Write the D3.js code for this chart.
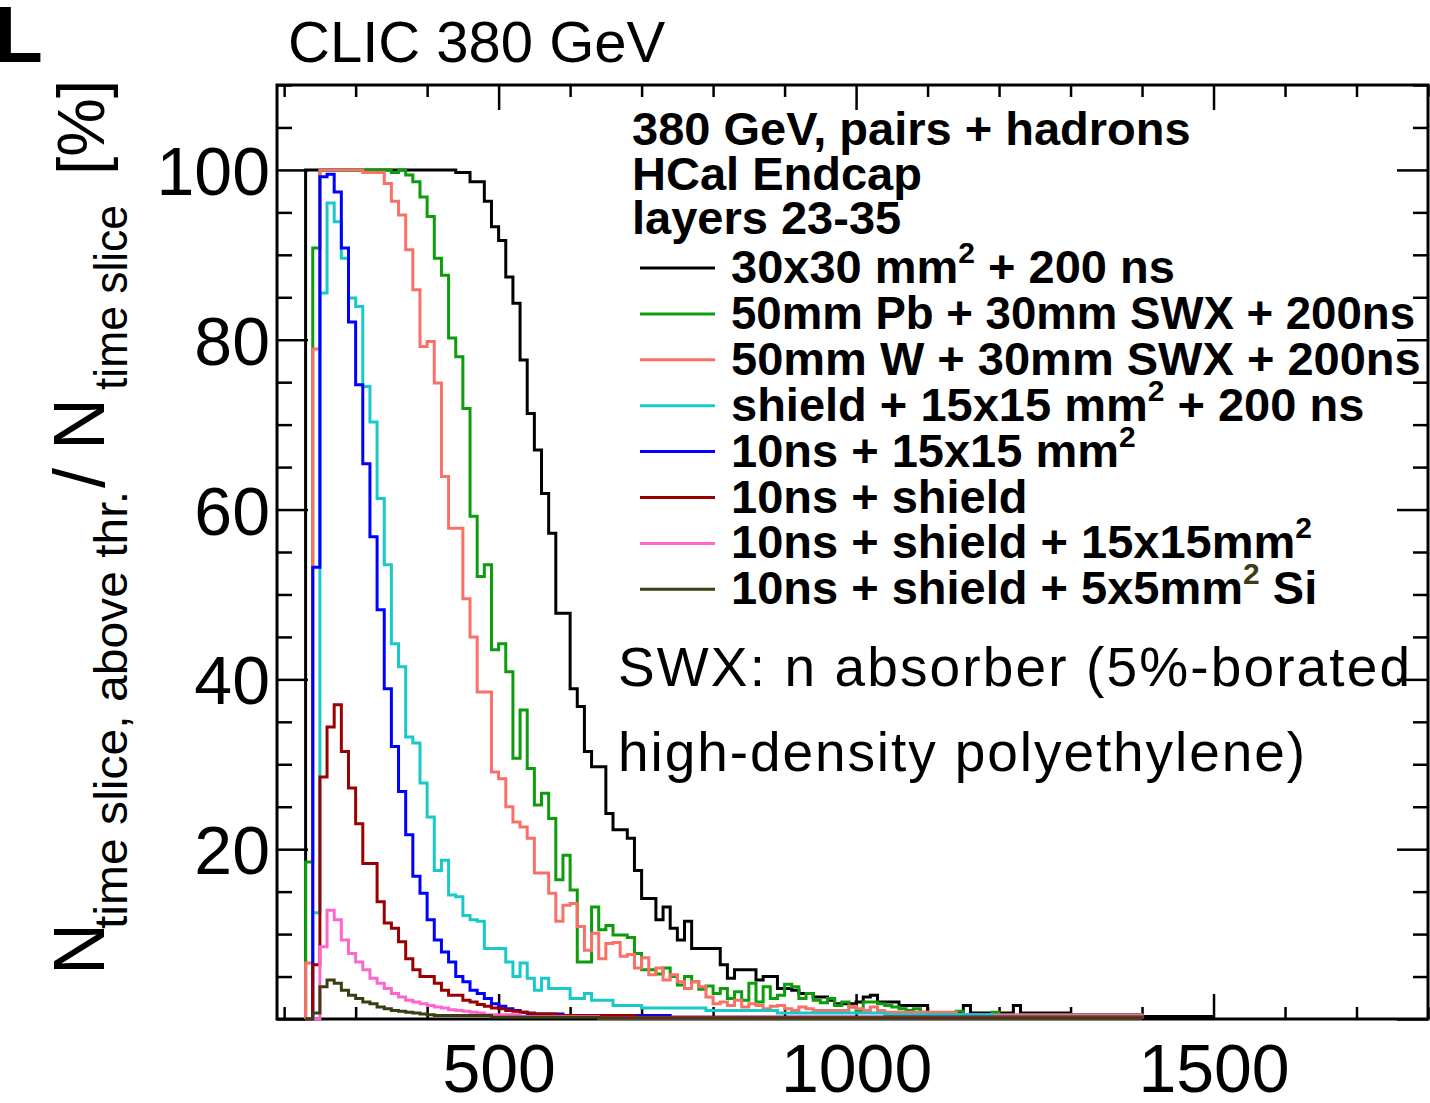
<!DOCTYPE html>
<html>
<head>
<meta charset="utf-8">
<script src="https://cdn.jsdelivr.net/npm/d3@7"></script>
<style>
  html, body { margin: 0; padding: 0; background: #fff; }
  svg { display: block; font-family: "Liberation Sans", Arial, Helvetica, sans-serif; }
</style>
</head>
<body>
<svg id="chart" width="1430" height="1103"></svg>
<script>
// Fraction of time slices above threshold, HCal endcap layers 23-35, CLIC 380 GeV.
// Histograms share one binning: 10 ns bins starting at 230 ns.
const binStart = 230;
const binWidth = 10;

// x / y axis ticks
const xMajorTicks = [500, 1000, 1500];
const xTickLabels = ["500", "1000", "1500"];
const xMinorTicks = [200, 300, 400, 600, 700, 800, 900, 1100, 1200, 1300, 1400, 1600, 1700, 1800];
const yMajorTicks = [0, 20, 40, 60, 80, 100];
const yTickLabels = ["", "20", "40", "60", "80", "100"];
const yMinorTicks = [5, 10, 15, 25, 30, 35, 45, 50, 55, 65, 70, 75, 85, 90, 95, 105, 110];

// series, in legend / drawing order
const seriesLabels = [
  "30x30 mm^{2} + 200 ns",
  "50mm Pb + 30mm SWX + 200ns",
  "50mm W + 30mm SWX + 200ns",
  "shield + 15x15 mm^{2} + 200 ns",
  "10ns + 15x15 mm^{2}",
  "10ns + shield",
  "10ns + shield + 15x15mm^{2}",
  "10ns + shield + 5x5mm^{2} Si"
];
const seriesColors = ["#000000", "#0c9c0c", "#fa7068", "#19c8c8", "#0000ff", "#990000", "#ff66cc", "#3d3d12"];

const cell30x30 = [
  100, 100, 100, 100, 100, 100, 100, 100, 100, 100,
  100, 100, 100, 100, 100, 100, 100, 100, 100, 100,
  100, 99.7, 99.7, 98.6, 98.6, 96.3, 93.3, 91.7, 87.4, 84.3,
  77.6, 71.3, 67.0, 61.9, 57.2, 47.8, 47.8, 38.9, 36.8, 31.5,
  29.7, 29.7, 24.2, 22.3, 22.3, 21.3, 17.5, 14.2, 14.2, 11.7,
  13.2, 10.7, 9.3, 11.5, 8.3, 8.3, 8.3, 8.3, 6.4, 4.8,
  5.8, 5.8, 5.8, 4.6, 5.0, 5.0, 3.6, 3.6, 3.4, 3.0,
  3.0, 2.6, 2.6, 2.2, 1.8, 1.8, 1.8, 2.0, 2.6, 2.8,
  2.0, 2.0, 2.0, 1.6, 1.6, 1.6, 1.6, 0.7, 0.7, 0.7,
  0.7, 0.7, 1.6, 0.7, 0.7, 0.7, 0.7, 0.7, 0.7, 1.6,
  0.7, 0.7, 0.7, 0.7, 0.7, 0.7, 0.7, 0.5, 0.5, 0.5,
  0.5, 0.5, 0.5, 0.5, 0.5, 0.5, 0.5, 0.3, 0.3, 0.3,
  0.3, 0.3, 0.3, 0.3, 0.3, 0.3, 0.3
];
const pbSwx = [
  18.5, 90.8, 100, 100, 100, 100, 100, 100, 100, 100,
  100, 100, 99.7, 100, 99.4, 98.6, 96.8, 94.5, 89.6, 87.6,
  80.2, 78.0, 71.9, 59.2, 52.1, 53.5, 43.5, 44.2, 40.9, 30.7,
  36.4, 29.5, 25.2, 26.6, 23.6, 16.4, 19.3, 15.2, 6.7, 6.7,
  13.2, 10.5, 11.0, 9.9, 9.9, 9.6, 7.7, 5.8, 5.8, 5.3,
  6.0, 5.0, 4.0, 5.0, 4.4, 3.5, 3.9, 3.0, 3.6, 2.4,
  3.2, 2.2, 4.2, 2.0, 3.8, 2.4, 2.8, 4.1, 3.8, 2.4,
  3.0, 2.2, 1.9, 2.4, 1.6, 2.0, 1.4, 1.0, 2.0, 2.0,
  1.8, 1.6, 1.4, 1.2, 1.0, 1.2, 0.8, 0.6, 0.6, 0.6,
  0.6, 0.9, 0.5, 0.5, 0.5, 0.5, 0.8, 0.4, 0.4, 0.4,
  0.4, 0.4, 0.4, 0.4, 0.4, 0.4, 0.4, 0.4, 0.4, 0.4,
  0.4, 0.4, 0.4, 0.4, 0.4, 0.4, 0.4
];
const wSwx = [
  6.6, 78.9, 100, 100, 100, 100, 100, 100, 99.7, 99.7,
  99.7, 98.4, 96.3, 94.7, 90.6, 85.9, 79.2, 79.8, 74.9, 63.9,
  57.8, 57.8, 49.5, 45.0, 38.5, 38.5, 29.1, 28.3, 25.0, 23.2,
  22.6, 21.3, 17.2, 17.2, 14.8, 11.5, 13.4, 13.6, 10.9, 8.1,
  10.1, 7.1, 8.9, 9.0, 7.4, 7.6, 6.0, 7.2, 5.2, 6.0,
  4.6, 5.2, 4.4, 3.6, 4.4, 3.8, 2.6, 1.8, 2.0, 1.6,
  2.2, 1.4, 1.8, 1.6, 1.2, 1.5, 1.6, 1.2, 1.0, 1.4,
  1.2, 1.0, 1.0, 1.0, 1.0, 1.0, 1.5, 1.2, 1.0, 1.4,
  1.0, 0.8, 0.8, 0.8, 0.8, 0.8, 0.8, 0.8, 0.8, 0.8,
  0.8, 0.5, 0.5, 0.5, 0.5, 0.5, 0.5, 0.5, 0.5, 0.5,
  0.5, 0.5, 0.5, 0.5, 0.5, 0.5, 0.5, 0.5, 0.5, 0.5,
  0.5, 0.5, 0.5, 0.5, 0.5, 0.5, 0.5
];
const shield15x15 = [
  0, 12.5, 85.5, 96.1, 93.9, 89.6, 84.9, 83.9, 74.5, 70.3,
  61.3, 53.5, 44.2, 41.5, 33.2, 32.5, 27.8, 23.8, 17.5, 18.7,
  14.6, 14.4, 12.2, 11.7, 11.5, 8.3, 8.3, 8.3, 6.7, 5.0,
  6.6, 4.8, 3.4, 4.8, 3.6, 3.6, 3.6, 2.4, 2.4, 3.0,
  2.2, 2.2, 2.2, 1.6, 1.6, 1.6, 1.6, 1.3, 1.3, 1.3,
  1.3, 1.3, 1.3, 1.3, 1.3, 1.3, 1.0, 1.0, 1.0, 1.0,
  1.0, 1.0, 1.0, 1.0, 1.0, 1.0, 0.7, 0.7, 0.7, 0.7,
  0.7, 0.7, 0.7, 0.7, 0.7, 0.7, 0.7, 0.7, 0.7, 0.7,
  0.7, 0.5, 0.5, 0.5, 0.5, 0.5, 0.5, 0.5, 0.5, 0.5,
  0.5, 0.5, 0.5, 0.5, 0.5, 0.5, 0.3, 0.3, 0.3, 0.3,
  0.3, 0.3, 0.3, 0.3, 0.3, 0.3, 0.3, 0.3, 0.3, 0.3,
  0.3, 0.3, 0.3, 0.3, 0.3, 0.3, 0.3
];
const ns10Cell15 = [
  0, 53.2, 99.2, 99.5, 97.4, 90.8, 82.1, 74.7, 65.4, 56.8,
  48.2, 38.9, 32.1, 26.8, 21.7, 16.8, 14.8, 11.7, 9.3, 7.9,
  6.7, 5.0, 4.4, 3.4, 3.0, 2.4, 1.8, 1.5, 1.2, 1.0,
  0.8, 0.6, 0.6, 0.6, 0.6, 0.6, 0.4, 0.4, 0.4, 0.4,
  0.4, 0.4, 0.4, 0.4, 0.4, 0.4, 0.4, 0.4, 0.4, 0.4,
  0.4, 0.2, 0.2, 0.2, 0.2, 0.2, 0.2, 0.2, 0.2, 0.2,
  0.2, 0.2, 0.2, 0.2, 0.2, 0.2, 0.2, 0.2, 0.2, 0.2,
  0.2, 0.2, 0.2, 0.2, 0.2, 0.2, 0.2, 0.2, 0.2, 0.2,
  0.2, 0.2, 0.2, 0.2, 0.2, 0.2, 0.2, 0.2, 0.2, 0.2,
  0.2, 0.2, 0.2, 0.2, 0.2, 0.2, 0.2, 0.2, 0.2, 0.2,
  0.2, 0.2, 0.2, 0.2, 0.2, 0.2, 0.2, 0.2, 0.2, 0.2,
  0.2, 0.2, 0.2, 0.2, 0.2, 0.2, 0.2
];
const ns10Shield = [
  0, 6.4, 28.5, 34.4, 37.0, 31.5, 27.2, 23.0, 18.3, 18.3,
  13.8, 11.3, 10.7, 9.1, 7.1, 5.8, 5.0, 5.0, 4.2, 3.4,
  2.8, 2.8, 2.2, 2.0, 1.7, 1.5, 1.3, 1.2, 1.0, 0.9,
  0.8, 0.7, 0.6, 0.6, 0.6, 0.4, 0.4, 0.4, 0.4, 0.4,
  0.4, 0.4, 0.4, 0.4, 0.4, 0.4, 0.2, 0.2, 0.2, 0.2,
  0.2, 0.2, 0.2, 0.2, 0.2, 0.2, 0.2, 0.2, 0.2, 0.2,
  0.2, 0.2, 0.2, 0.2, 0.2, 0.2, 0.2, 0.2, 0.2, 0.2,
  0.2, 0.2, 0.2, 0.2, 0.2, 0.2, 0.2, 0.2, 0.2, 0.2,
  0.2, 0.2, 0.2, 0.2, 0.2, 0.2, 0.2, 0.2, 0.2, 0.2,
  0.2, 0.2, 0.2, 0.2, 0.2, 0.2, 0.2, 0.2, 0.2, 0.2,
  0.2, 0.2, 0.2, 0.2, 0.2, 0.2, 0.2, 0.2, 0.2, 0.2,
  0.2, 0.2, 0.2, 0.2, 0.2, 0.2, 0.2
];
const ns10Shield15 = [
  0, 0, 8.5, 12.8, 11.7, 9.3, 7.7, 6.7, 5.8, 4.8,
  4.2, 3.6, 3.0, 2.6, 2.2, 2.0, 1.8, 1.6, 1.4, 1.3,
  1.1, 1.0, 0.9, 0.8, 0.7, 0.5, 0.5, 0.5, 0.5, 0.5,
  0.3, 0.3, 0.3, 0.3, 0.3, 0.3, 0.3, 0.3, 0.3, 0.3,
  0.3, 0.1, 0.1, 0.1, 0.1, 0.1, 0.1, 0.1, 0.1, 0.1,
  0.1, 0.1, 0.1, 0.1, 0.1, 0.1, 0.1, 0.1, 0.1, 0.1,
  0.1, 0.1, 0.1, 0.1, 0.1, 0.1, 0.1, 0.1, 0.1, 0.1,
  0.1, 0.1, 0.1, 0.1, 0.1, 0.1, 0.1, 0.1, 0.1, 0.1,
  0.1, 0.1, 0.1, 0.1, 0.1, 0.1, 0.1, 0.1, 0.1, 0.1,
  0.1, 0.1, 0.1, 0.1, 0.1, 0.1, 0.1, 0.1, 0.1, 0.1,
  0.1, 0.1, 0.1, 0.1, 0.1, 0.1, 0.1, 0.1, 0.1, 0.1,
  0.1, 0.1, 0.1, 0.1, 0.1, 0.1, 0.1
];
const ns10ShieldSi = [
  0, 0.7, 3.8, 4.6, 4.2, 3.4, 2.8, 2.4, 2.0, 1.8,
  1.4, 1.2, 1.0, 0.9, 0.8, 0.7, 0.6, 0.5, 0.4, 0.4,
  0.4, 0.4, 0.4, 0.4, 0.4, 0.4, 0.2, 0.2, 0.2, 0.2,
  0.2, 0.2, 0.2, 0.2, 0.2, 0.2, 0.2, 0.2, 0.2, 0.2,
  0.2, 0.1, 0.1, 0.1, 0.1, 0.1, 0.1, 0.1, 0.1, 0.1,
  0.1, 0.1, 0.1, 0.1, 0.1, 0.1, 0.1, 0.1, 0.1, 0.1,
  0.1, 0.1, 0.1, 0.1, 0.1, 0.1, 0.1, 0.1, 0.1, 0.1,
  0.1, 0.1, 0.1, 0.1, 0.1, 0.1, 0.1, 0.1, 0.1, 0.1,
  0.1, 0.1, 0.1, 0.1, 0.1, 0.1, 0.1, 0.1, 0.1, 0.1,
  0.1, 0.1, 0.1, 0.1, 0.1, 0.1, 0.1, 0.1, 0.1, 0.1,
  0.1, 0.1, 0.1, 0.1, 0.1, 0.1, 0.1, 0.1, 0.1, 0.1,
  0.1, 0.1, 0.1, 0.1, 0.1, 0.1, 0.1
];

const seriesValues = [cell30x30, pbSwx, wSwx, shield15x15, ns10Cell15, ns10Shield, ns10Shield15, ns10ShieldSi];

const headerLines = ["380 GeV, pairs + hadrons", "HCal Endcap", "layers 23-35"];
const noteLines = ["SWX: n absorber (5%-borated", "high-density polyethylene)"];

// ---------------------------------------------------------------------------
const svg = d3.select("#chart");
const x = d3.scaleLinear().domain([190, 1800]).range([277, 1428]);
const y = d3.scaleLinear().domain([0, 110]).range([1019, 85]);
const [plotLeft, plotRight] = x.range();
const [plotBottom, plotTop] = y.range();

// frame
svg.append("rect")
  .attr("x", plotLeft).attr("y", plotTop)
  .attr("width", plotRight - plotLeft).attr("height", plotBottom - plotTop)
  .attr("fill", "none").attr("stroke", "#000").attr("stroke-width", 3);

function styleAxis(g) {
  g.select(".domain").remove();
  g.selectAll(".tick line").attr("stroke", "#000").attr("stroke-width", 2.5);
  g.selectAll("text").attr("fill", "#000")
    .attr("font-family", "'Liberation Sans', Arial, sans-serif").attr("font-size", 68);
}

// bottom axis with labels, inward ticks
svg.append("g").attr("transform", `translate(0,${plotBottom})`)
  .call(d3.axisBottom(x).tickValues(xMajorTicks).tickFormat((d, i) => xTickLabels[i])
    .tickSizeInner(-25).tickSizeOuter(0).tickPadding(25))
  .call(styleAxis);
svg.append("g").attr("transform", `translate(0,${plotBottom})`)
  .call(d3.axisBottom(x).tickValues(xMinorTicks).tickFormat("").tickSizeInner(-12).tickSizeOuter(0))
  .call(styleAxis);
// top axis, ticks only
svg.append("g").attr("transform", `translate(0,${plotTop})`)
  .call(d3.axisTop(x).tickValues(xMajorTicks).tickFormat("").tickSizeInner(-25).tickSizeOuter(0))
  .call(styleAxis);
svg.append("g").attr("transform", `translate(0,${plotTop})`)
  .call(d3.axisTop(x).tickValues(xMinorTicks).tickFormat("").tickSizeInner(-12).tickSizeOuter(0))
  .call(styleAxis);
// left axis with labels
svg.append("g").attr("transform", `translate(${plotLeft},0)`)
  .call(d3.axisLeft(y).tickValues(yMajorTicks).tickFormat((d, i) => yTickLabels[i])
    .tickSizeInner(-31).tickSizeOuter(0).tickPadding(7))
  .call(styleAxis)
  .selectAll("text").attr("dy", "0.36em");
svg.append("g").attr("transform", `translate(${plotLeft},0)`)
  .call(d3.axisLeft(y).tickValues(yMinorTicks).tickFormat("").tickSizeInner(-15).tickSizeOuter(0))
  .call(styleAxis);
// right axis, ticks only
svg.append("g").attr("transform", `translate(${plotRight},0)`)
  .call(d3.axisRight(y).tickValues(yMajorTicks).tickFormat("").tickSizeInner(-31).tickSizeOuter(0))
  .call(styleAxis);
svg.append("g").attr("transform", `translate(${plotRight},0)`)
  .call(d3.axisRight(y).tickValues(yMinorTicks).tickFormat("").tickSizeInner(-15).tickSizeOuter(0))
  .call(styleAxis);

// step outline of a histogram: rises from zero at the first edge, drops to zero after the last bin
function stepPoints(values) {
  const pts = [[binStart, 0]];
  values.forEach((v, i) => {
    const lo = binStart + i * binWidth;
    pts.push([lo, v], [lo + binWidth, v]);
  });
  pts.push([binStart + values.length * binWidth, 0]);
  return pts;
}
const stepLine = d3.line().x(d => x(d[0])).y(d => y(d[1]));

svg.append("g").selectAll("path")
  .data(seriesValues)
  .join("path")
  .attr("d", d => stepLine(stepPoints(d)))
  .attr("fill", "none")
  .attr("stroke", (d, i) => seriesColors[i])
  .attr("stroke-width", 3)
  .attr("stroke-linejoin", "miter");

// text with ^{...} superscripts
function richText(sel, label, supColor) {
  const parts = label.split(/(\^\{[^}]*\})/).filter(s => s.length);
  let raised = false;
  parts.forEach(p => {
    const m = p.match(/^\^\{([^}]*)\}$/);
    if (m) {
      sel.append("tspan").attr("dy", -20).attr("font-size", 30)
        .attr("fill", supColor || null).text(m[1]);
      raised = true;
    } else {
      const t = sel.append("tspan").text(p);
      if (raised) { t.attr("dy", 20); raised = false; }
    }
  });
}

// legend header
svg.append("g").selectAll("text")
  .data(headerLines)
  .join("text")
  .attr("x", 632).attr("y", (d, i) => 145 + i * 44.5)
  .attr("font-weight", "bold").attr("font-size", 47).attr("fill", "#000")
  .text(d => d);

// legend entries (the long Pb entry is set slightly tighter so it stays inside the frame)
const legend = svg.append("g");
seriesLabels.forEach((label, i) => {
  const ly = 268 + i * 45.9;
  legend.append("line")
    .attr("x1", 640).attr("x2", 715).attr("y1", ly).attr("y2", ly)
    .attr("stroke", seriesColors[i]).attr("stroke-width", 3);
  const t = legend.append("text")
    .attr("x", 731).attr("y", ly + 15)
    .attr("font-weight", "bold").attr("font-size", 47).attr("fill", "#000");
  if (i === 1) t.attr("textLength", 684).attr("lengthAdjust", "spacingAndGlyphs");
  richText(t, label, i === seriesLabels.length - 1 ? seriesColors[i] : null);
});

// note on the SWX material
const noteWidths = [792, 687];
svg.append("g").selectAll("text")
  .data(noteLines)
  .join("text")
  .attr("x", 618).attr("y", (d, i) => 686 + i * 85)
  .attr("font-size", 55).attr("fill", "#000")
  .attr("textLength", (d, i) => noteWidths[i]).attr("lengthAdjust", "spacing")
  .text(d => d);

// title and panel letter
svg.append("text").attr("x", 288).attr("y", 62)
  .attr("font-size", 58).attr("fill", "#000").text("CLIC 380 GeV");
svg.append("text").attr("x", -6).attr("y", 62)
  .attr("font-size", 80).attr("font-weight", "bold").attr("fill", "#000").text("L");

// rotated y-axis title: N_{time slice, above thr.} / N_{time slice} [%]
const yTitle = svg.append("g").attr("transform", "translate(104,975) rotate(-90)")
  .attr("fill", "#000");
yTitle.append("text").attr("x", 0).attr("y", 0).attr("font-size", 72).text("N");
yTitle.append("text").attr("x", 46).attr("y", 23).attr("font-size", 46)
  .attr("textLength", 438).attr("lengthAdjust", "spacingAndGlyphs").text("time slice, above thr.");
yTitle.append("text").attr("x", 487).attr("y", 0).attr("font-size", 72).text("/");
yTitle.append("text").attr("x", 525).attr("y", 0).attr("font-size", 72).text("N");
yTitle.append("text").attr("x", 585).attr("y", 23).attr("font-size", 46)
  .attr("textLength", 185).attr("lengthAdjust", "spacingAndGlyphs").text("time slice");
yTitle.append("text").attr("x", 800).attr("y", 0).attr("font-size", 66).text("[%]");
</script>
</body>
</html>
